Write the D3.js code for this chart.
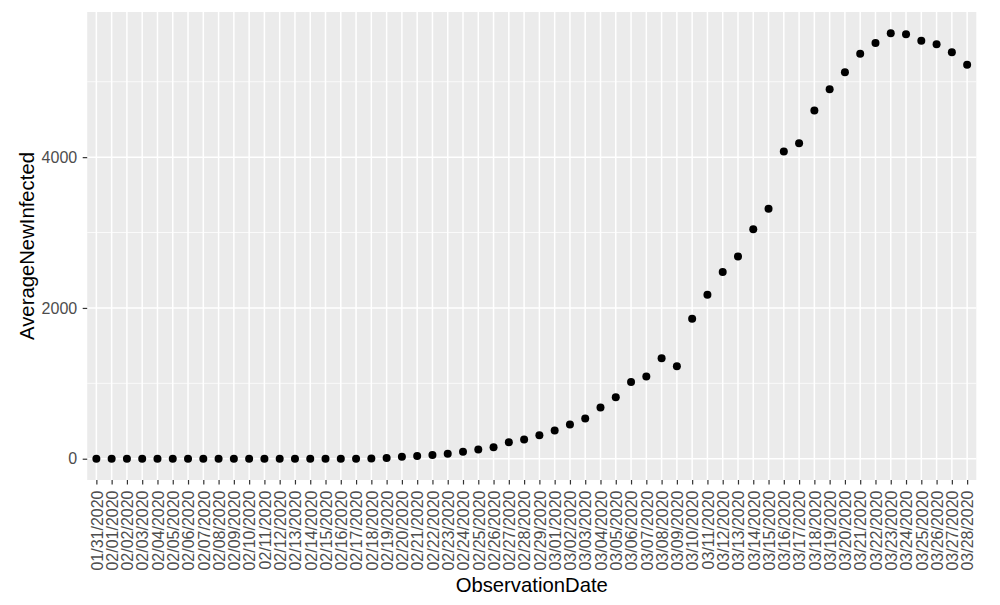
<!DOCTYPE html>
<html>
<head>
<meta charset="utf-8">
<script src="https://cdn.jsdelivr.net/npm/d3@7"></script>
<style>
  html, body { margin: 0; padding: 0; background: #ffffff; }
  svg { display: block; font-family: "Liberation Sans", Arial, Helvetica, sans-serif; }
</style>
</head>
<body>
<svg id="chart" width="1000" height="605"></svg>
<script>
const dates = [
  "01/31/2020","02/01/2020","02/02/2020","02/03/2020","02/04/2020","02/05/2020","02/06/2020",
  "02/07/2020","02/08/2020","02/09/2020","02/10/2020","02/11/2020","02/12/2020","02/13/2020",
  "02/14/2020","02/15/2020","02/16/2020","02/17/2020","02/18/2020","02/19/2020","02/20/2020",
  "02/21/2020","02/22/2020","02/23/2020","02/24/2020","02/25/2020","02/26/2020","02/27/2020",
  "02/28/2020","02/29/2020","03/01/2020","03/02/2020","03/03/2020","03/04/2020","03/05/2020",
  "03/06/2020","03/07/2020","03/08/2020","03/09/2020","03/10/2020","03/11/2020","03/12/2020",
  "03/13/2020","03/14/2020","03/15/2020","03/16/2020","03/17/2020","03/18/2020","03/19/2020",
  "03/20/2020","03/21/2020","03/22/2020","03/23/2020","03/24/2020","03/25/2020","03/26/2020",
  "03/27/2020","03/28/2020"
];
const avgNewInfected = [
  0, 0, 0, 0, 0, 0, 0, 0, 0, 0, 0, 0, 0, 0, 0, 0, 0, 0, 3, 10,
  26, 35, 48, 66, 92, 123, 153, 219, 255, 312,
  374, 453, 532, 678, 815, 1017, 1090, 1334, 1226, 1856,
  2175, 2475, 2682, 3043, 3317, 4074, 4184, 4620, 4902, 5127,
  5373, 5515, 5643, 5630, 5545, 5497, 5391, 5224
];
const yMajorTicks = [0, 2000, 4000];
const yMinorTicks = [1000, 3000, 5000];
const xTitle = "ObservationDate";
const yTitle = "AverageNewInfected";

const data = dates.map((d, i) => ({ date: d, value: avgNewInfected[i] }));

const panel = { left: 87.2, right: 976.3, top: 12, bottom: 480 };
const svg = d3.select("#chart");

const x = d3.scalePoint().domain(dates).range([panel.left, panel.right]).padding(0.6);
const ext = d3.extent(avgNewInfected);
const pad = (ext[1] - ext[0]) * 0.05;
const y = d3.scaleLinear().domain([ext[0] - pad, ext[1] + pad]).range([panel.bottom, panel.top]);

// panel background
svg.append("rect")
  .attr("x", panel.left).attr("y", panel.top)
  .attr("width", panel.right - panel.left).attr("height", panel.bottom - panel.top)
  .attr("fill", "#EBEBEB");

// minor horizontal grid
svg.append("g").selectAll("line").data(yMinorTicks.filter(v => y(v) >= panel.top && y(v) <= panel.bottom)).join("line")
  .attr("x1", panel.left).attr("x2", panel.right)
  .attr("y1", d => y(d)).attr("y2", d => y(d))
  .attr("stroke", "#ffffff").attr("stroke-width", 0.75);

// major horizontal grid
svg.append("g").selectAll("line").data(yMajorTicks).join("line")
  .attr("x1", panel.left).attr("x2", panel.right)
  .attr("y1", d => y(d)).attr("y2", d => y(d))
  .attr("stroke", "#ffffff").attr("stroke-width", 1.5);

// major vertical grid
svg.append("g").selectAll("line").data(dates).join("line")
  .attr("x1", d => x(d)).attr("x2", d => x(d))
  .attr("y1", panel.top).attr("y2", panel.bottom)
  .attr("stroke", "#ffffff").attr("stroke-width", 1.5);

// points
svg.append("g").selectAll("circle").data(data).join("circle")
  .attr("cx", d => x(d.date)).attr("cy", d => y(d.value))
  .attr("r", 4).attr("fill", "#000000");

// y axis
const yAxis = svg.append("g")
  .attr("transform", `translate(${panel.left},0)`)
  .call(d3.axisLeft(y).tickValues(yMajorTicks).tickSize(4.5).tickPadding(5.5).tickFormat(d3.format("d")));
yAxis.select(".domain").remove();
yAxis.selectAll(".tick line").attr("stroke", "#333333").attr("stroke-width", 1.2);
yAxis.selectAll(".tick text").attr("fill", "#4D4D4D").style("font-size", "16px");

// x axis
const xAxis = svg.append("g")
  .attr("transform", `translate(0,${panel.bottom})`)
  .call(d3.axisBottom(x).tickSize(4.5).tickPadding(4));
xAxis.select(".domain").remove();
xAxis.selectAll(".tick line").attr("stroke", "#333333").attr("stroke-width", 1.2);
xAxis.selectAll(".tick text")
  .attr("fill", "#4D4D4D").style("font-size", "16px")
  .attr("text-anchor", "end")
  .attr("transform", "rotate(-90)")
  .attr("x", -10.5).attr("y", 0).attr("dy", "0.36em");

// axis titles
svg.append("text")
  .attr("x", (panel.left + panel.right) / 2).attr("y", 591.5)
  .attr("text-anchor", "middle").attr("fill", "#000000")
  .style("font-size", "20.3px").text(xTitle);

svg.append("text")
  .attr("transform", `translate(33.5,${(panel.top + panel.bottom) / 2}) rotate(-90)`)
  .attr("text-anchor", "middle").attr("fill", "#000000")
  .style("font-size", "20.3px").text(yTitle);
</script>
</body>
</html>
